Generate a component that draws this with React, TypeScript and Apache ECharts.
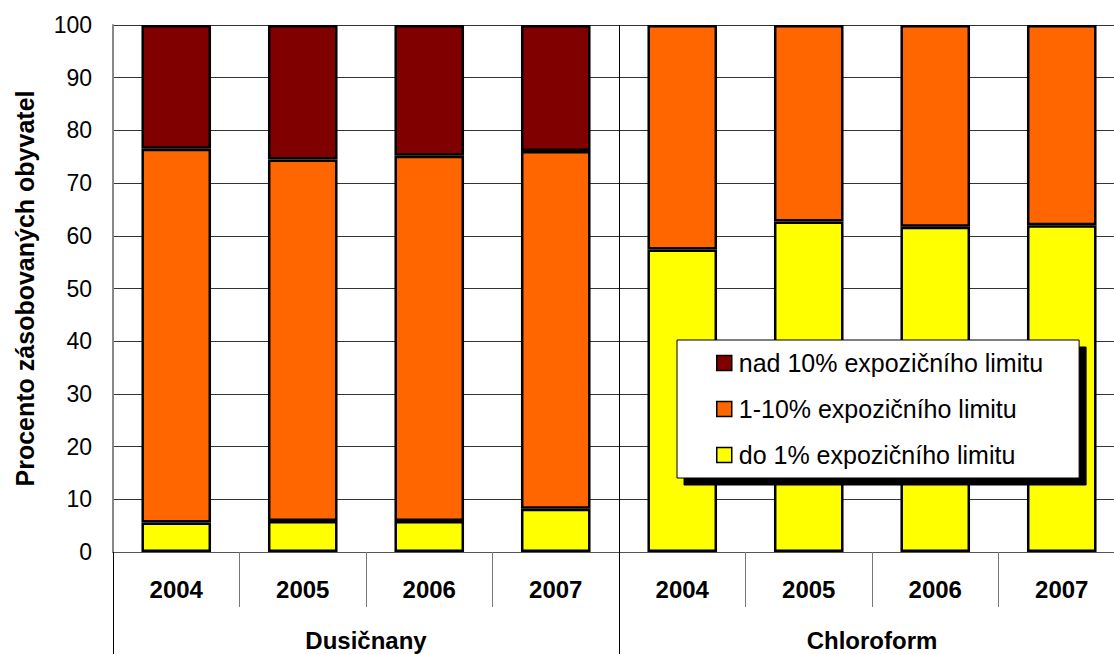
import React, { useEffect, useRef } from "react";
import * as echarts from "echarts";

const years = ["2004", "2005", "2006", "2007", "2004", "2005", "2006", "2007"];
const groups = ["Dusičnany", "Chloroform"];
const seriesNames = ["do 1% expozičního limitu", "1-10% expozičního limitu", "nad 10% expozičního limitu"];
const below1 = [5.6, 5.9, 5.9, 8.2, 57.4, 62.7, 61.7, 62.0];
const from1to10 = [70.9, 68.6, 69.3, 67.9, 42.6, 37.3, 38.3, 38.0];
const above10 = [23.5, 25.5, 24.8, 23.9, null, null, null, null];
const yTicks = { min: 0, max: 100, interval: 10 };
const colors = ["#FFFF00", "#FF6600", "#800000"];

const FONT = "Liberation Sans, Arial, sans-serif";

export default function App() {
  const ref = useRef<HTMLDivElement>(null);
  useEffect(() => {
    if (!ref.current) return;
    const chart = echarts.init(ref.current, undefined, { renderer: "svg" });
    const values = [below1, from1to10, above10];
    chart.setOption({
      animation: false,
      textStyle: { fontFamily: FONT },
      grid: { left: 113, top: 25, right: 0, bottom: 102, containLabel: false },
      legend: {
        orient: "vertical",
        left: 677,
        top: 340,
        data: [seriesNames[2], seriesNames[1], seriesNames[0]],
        backgroundColor: "#ffffff",
        borderColor: "#000",
        borderWidth: 1,
        shadowColor: "#000",
        shadowOffsetX: 7,
        shadowOffsetY: 7,
        shadowBlur: 0,
        padding: [9, 36, 9, 39],
        itemGap: 18,
        itemWidth: 15,
        itemHeight: 15,
        icon: "rect",
        itemStyle: { borderColor: "#000", borderWidth: 1.5 },
        textStyle: { fontSize: 25, color: "#000", fontFamily: FONT, lineHeight: 28, padding: [0, 0, 0, 2] },
      },
      xAxis: [
        {
          type: "category",
          data: years,
          position: "bottom",
          axisLine: { show: true, lineStyle: { color: "#555", width: 1 } },
          axisTick: { show: true, length: 55, interval: 0, lineStyle: { color: "#777", width: 1 } },
          axisLabel: { fontSize: 24, fontWeight: "bold", color: "#000", margin: 25, fontFamily: FONT },
          splitLine: { show: false },
        },
        {
          type: "category",
          data: groups,
          position: "bottom",
          axisLine: { show: false },
          axisTick: { show: true, length: 102, interval: 0, lineStyle: { color: "#000", width: 1 } },
          axisLabel: { fontSize: 24, fontWeight: "bold", color: "#000", margin: 76, fontFamily: FONT },
          splitLine: { show: true, interval: 0, lineStyle: { color: "#000", width: 1 } },
        },
      ],
      yAxis: {
        type: "value",
        min: yTicks.min,
        max: yTicks.max,
        interval: yTicks.interval,
        name: "Procento zásobovaných obyvatel",
        nameLocation: "middle",
        nameGap: 76,
        nameTextStyle: { fontSize: 25, fontWeight: "bold", color: "#000", fontFamily: FONT },
        axisLine: { show: true, lineStyle: { color: "#888", width: 2 } },
        axisTick: { show: false },
        axisLabel: { fontSize: 23, color: "#000", margin: 21, fontFamily: FONT },
        splitLine: { show: true, lineStyle: { color: "#333", width: 1 } },
      },
      series: seriesNames.map((name, i) => ({
        name,
        type: "bar",
        stack: "total",
        xAxisIndex: 0,
        barWidth: "55%",
        data: values[i],
        itemStyle: { color: colors[i], borderColor: "#000", borderWidth: 2.5 },
      })),
    });
    return () => chart.dispose();
  }, []);
  return (
    <div
      ref={ref}
      style={{ position: "fixed", left: 0, top: 0, width: 1125, height: 654, background: "#fff" }}
    />
  );
}
